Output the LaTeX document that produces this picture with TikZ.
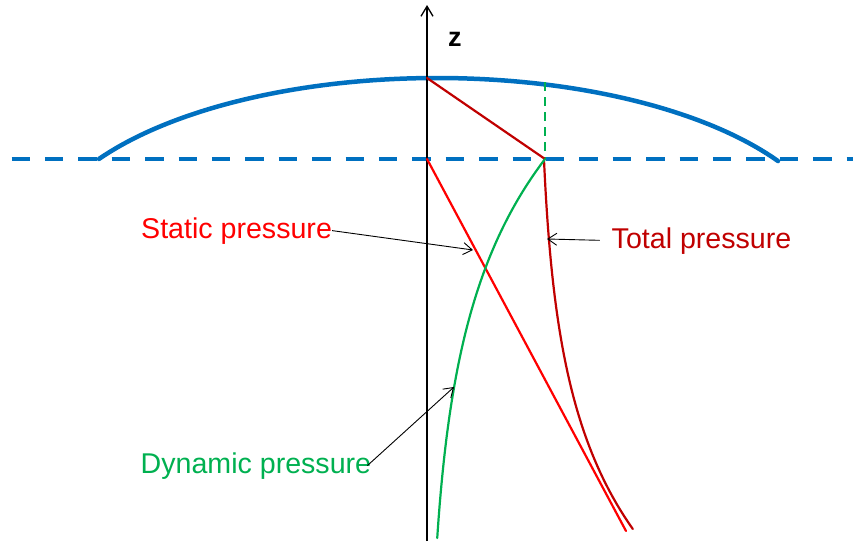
\documentclass[tikz,border=0pt]{standalone}
\usepackage{fontspec}
\setmainfont{Liberation Sans}
\usetikzlibrary{arrows.meta}
\definecolor{wblue}{HTML}{0070C0}
\definecolor{dred}{HTML}{C00000}
\definecolor{lred}{HTML}{FF0000}
\definecolor{lgreen}{HTML}{00B050}
\begin{document}
\begin{tikzpicture}[x=1pt,y=-1pt,
  lbl/.style={anchor=base west,inner sep=0pt,font=\fontsize{28.6}{32}\selectfont},
  pointer/.style={draw=black,line width=0.9pt,-{Straight Barb[length=9pt,width=12pt]}},
  curve/.style={line width=2.2pt,line cap=round},
  water/.style={draw=wblue,line width=4.5pt}]
\useasboundingbox (0,0) rectangle (853,541);
% key points
\coordinate (axbot) at (427,541);
\coordinate (axtop) at (427,5);
\coordinate (surf) at (427,78);
\coordinate (base) at (427,159);
\coordinate (knee) at (545,159);
\coordinate (kneetop) at (545,82);
\coordinate (stend) at (626,531);
\coordinate (sttip) at (473,250);
\coordinate (tottip) at (547,239);
\coordinate (dyntip) at (454,387);
\coordinate (wl) at (11.5,159);
\coordinate (wr) at (853,159);
% water surface
\draw[water,dash pattern=on 18.4pt off 15pt] (wl) -- (wr);
\draw[water,line cap=round] plot[domain=99:778,samples=120,variable=\u] ({\u},{252-174*sqrt(1-((\u-437)/400)^2)});
% axis
\draw[line width=1.3pt,-{Straight Barb[length=10pt,width=12pt]}] (axbot) -- (axtop);
\node[anchor=base west,inner sep=0pt,font=\fontsize{27}{30}\selectfont\bfseries] (zl) at (448,46) {z};
% pressure curves
\draw[lgreen,line width=2pt,dash pattern=on 9pt off 6pt] (kneetop) -- (knee);
\draw[dred,curve] (surf) -- (knee);
\draw[dred,curve] plot[domain=160:529,samples=60,variable=\t] ({544+6.12*(exp((\t-160)/134.6)-1)},\t);
\draw[lred,curve] (base) -- (stend);
\draw[lgreen,curve] plot[domain=159:538,samples=60,variable=\t] ({427+118*exp(-(\t-159)/155)},\t);
% labels
\node[lbl,text=lred] (st) at (141,238) {Static pressure};
\node[lbl,text=dred] (tot) at (611.5,248) {Total pressure};
\node[lbl,text=lgreen] (dyn) at (140.5,473) {Dynamic pressure};
\draw[pointer] (st.east) -- (sttip);
\draw[pointer,shorten <=12pt] (tot.west) -- (tottip);
\draw[pointer] ([xshift=-4pt]dyn.east) -- (dyntip);
\end{tikzpicture}
\end{document}
